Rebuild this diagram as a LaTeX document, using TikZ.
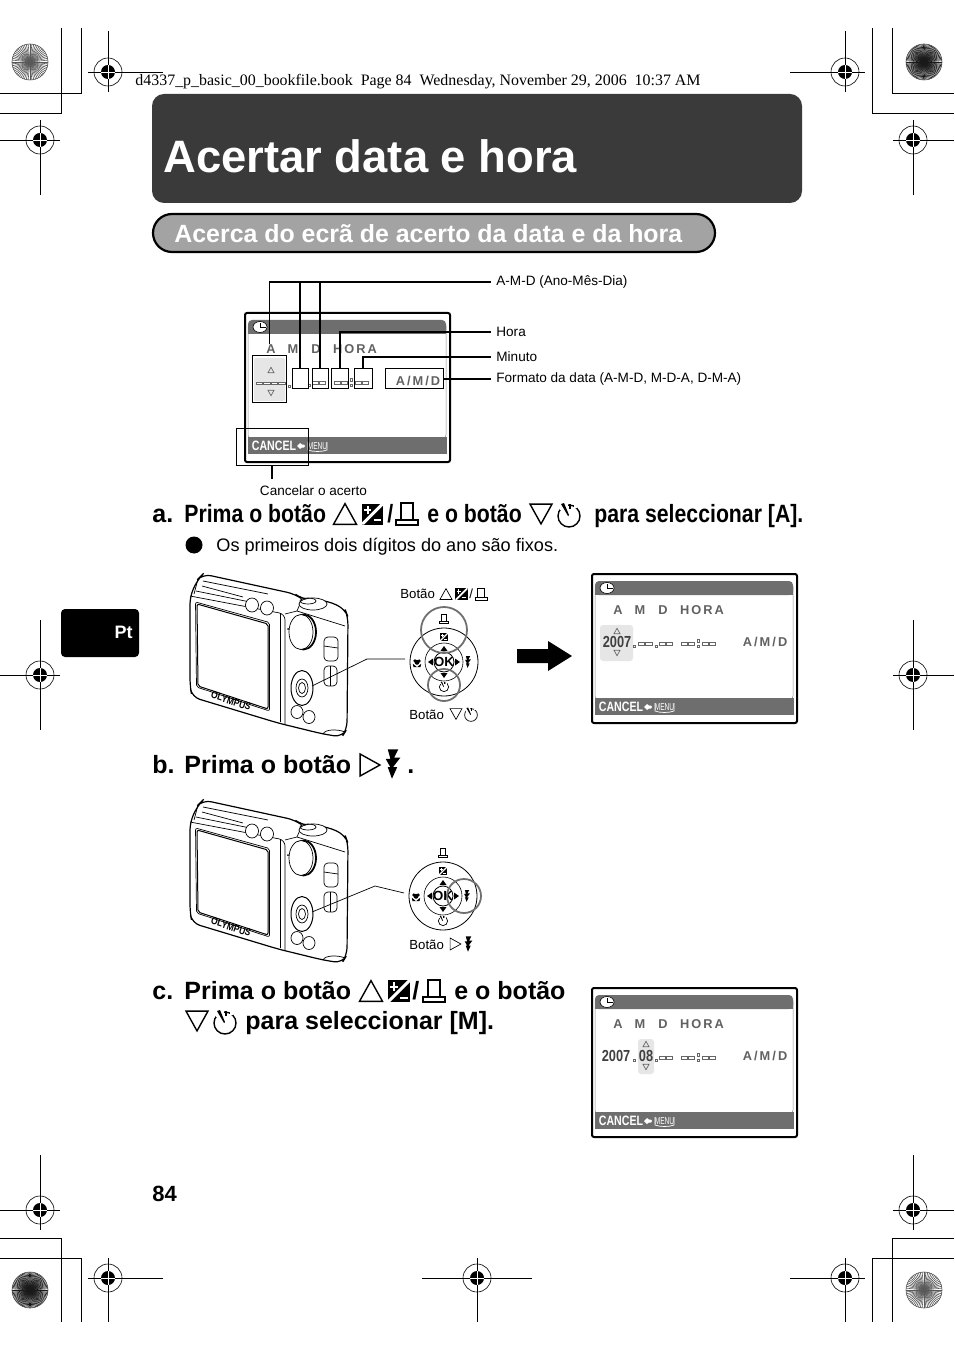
\documentclass[tikz,border=0pt]{standalone}
\usepackage{fontspec}
\setmainfont{Liberation Sans}
\setsansfont{Liberation Sans}
\newfontfamily\pageheadfont{Liberation Serif}
\newfontfamily\lcdfont{Liberation Sans}[LetterSpace=16]
\definecolor{banner}{HTML}{3A3A3A}
\definecolor{pillgray}{HTML}{A3A3A3}
\definecolor{lcdbar}{HTML}{6E6E6E}
\definecolor{lcdpale}{HTML}{E6E6E6}
\definecolor{ringgray}{HTML}{6F6F6F}
\tikzset{
  leader/.style={draw=black,line width=0.6pt},
  leadbox/.style={draw=black,line width=0.5pt,inner sep=0pt},
  caption/.style={anchor=west,inner sep=2.5pt,font=\fontsize{6.78}{8}\selectfont},
  steptext/.style={anchor=base west,inner sep=0pt,font=\fontsize{12.5}{15}\selectfont\bfseries},
  tiny/.style={anchor=base west,inner sep=0pt,font=\fontsize{6.6}{8}\selectfont},
  lcdtext/.style={inner sep=0pt,text=black!62,font=\fontsize{6.4}{7}\selectfont\lcdfont\bfseries},
  lcddigit/.style={inner sep=0pt,text=black!75,xscale=.8,transform shape,font=\fontsize{8}{9}\selectfont\bfseries},
  lcddash/.style={draw=black!60,line width=0.2pt,fill=white},
  iconbig/.style={line width=0.7pt},
  iconsmall/.style={line width=0.35pt},
  dialmark/.style={draw=ringgray,line width=0.9pt},
  camline/.style={line width=0.35pt},
  triup/.pic={\draw (-10,9)--(0,-9)--(10,9)--cycle;},
  tridown/.pic={\draw (-10,-9)--(0,9)--(10,-9)--cycle;},
  triright/.pic={\draw (-9,-10)--(9,0)--(-9,10)--cycle;},
  evicon/.pic={
    \fill (-10,-10) rectangle (10,10);
    \fill[white] (-10,10)--(-8,10)--(10,-8)--(10,-10)--(8,-10)--(-10,8)--cycle;
    \fill[white] (-8,-5) rectangle (-1,-3);
    \fill[white] (-5.5,-8) rectangle (-3.5,0);
    \fill[white] (1,5) rectangle (8,7);
  },
  printicon/.pic={
    \draw (-6,6)--(-6,-11)--(6,-11)--(6,6);
    \draw (-11,6) rectangle (11,11);
  },
  timericon/.pic={
    \draw (0,0) circle (11);
    \fill[white] (-9,-13) rectangle (-1,-6);
    \fill[white] (5,-12) rectangle (8,-8);
    \fill (-8,-12)--(-5,-13)--(0,-1)--(-1,0)--cycle;
    \fill (0,-12) rectangle (1.8,-7);
  },
  flashicon/.pic={
    \fill (-5,-14)--(5,-14)--(1,-6)--(7,-6)--(0,3)--(4,3)--(-1,14)--(-5,3)--(-2.5,3)--(-7,-5)--(-2.5,-5)--cycle;
  },
  tulipicon/.pic={
    \fill (0,-1) circle (3.5) (-3,-3) circle (2.5) (3,-3) circle (2.5);
    \fill (-6,1)--(0,6)--(6,1)--(5,6)--(-5,6)--cycle;
  },
  lcd/.pic={
    \draw[line width=1pt,rounded corners=1pt,fill=white] (0,0) rectangle (205,149);
    \draw[black!45,line width=0.25pt,rounded corners=1.5pt] (3,10) rectangle (201,125);
    \fill[lcdbar,rounded corners=2pt] (3,7) rectangle (201,21);
    \fill[lcdbar] (3,14) rectangle (201,21);
    \fill[lcdbar] (3,124) rectangle (202,141);
    \draw[fill=white,line width=0.3pt] (15,14) ellipse (7 and 5.5);
    \draw[line width=0.25pt] (15,10)--(15,14)--(21,14);
    \node[lcdtext] (lcdA) at (26,36) {A};
    \node[lcdtext] (lcdM) at (48,36) {M};
    \node[lcdtext] (lcdD) at (71,36) {D};
    \node[lcdtext] (lcdHora) at (110,36) {HORA};
    \node[lcdtext] (lcdOrder) at (173,68) {A/M/D};
    \foreach \x in {67,74,89,96,110,117}
      \draw[lcddash] (\x,68.5) rectangle ++(6.5,2.5);
    \foreach \y in {65.5,71}
      \draw[lcddash] (105,\y) rectangle ++(2.5,2.5);
    \draw[lcddash] (63,71) rectangle ++(2,2);
    \node[inner sep=0pt,text=white,xscale=.78,transform shape,font=\fontsize{6.8}{8}\selectfont\bfseries] (lcdCancel) at (29,133) {CANCEL};
    \fill[white] (52,133)--(55,130)--(57,131.5)--(59,131.5)--(60,133)--(59,134.5)--(57,134.5)--(55,136)--cycle;
    \node[inner sep=0pt,text=white,xscale=.66,transform shape,font=\fontsize{5}{6}\selectfont] (lcdMenu) at (72.5,133) {MENU};
    \draw[white,line width=0.35pt] (63,129)--(63,137) .. controls (68,139) and (77,139) .. (82,137)--(82,129);
  },
  camera/.pic={
    \begin{scope}[camline]
    \draw[line width=0.6pt,rounded corners=4pt,fill=white] (0,22)--(8,5)--(13,0)--(105,20)--(112,25)--(138,27)--(155,35)--(158,43)--(157,155)--(152,163)--(133,160)--(88,149)--(2,123)--(0,112)--cycle;
    \draw[rounded corners=3pt] (0,22)--(95,40)--(95,150);
    \draw (90,39)--(90,148);
    \draw (8,5)--(4,20) (13,7)--(78,20) (12,12)--(53,23) (6,17)--(60,28);
    \draw (95,40)--(107,37)--(155,52);
    \draw (112,25)--(107,37);
    \draw[rounded corners=1pt,line width=0.5pt] (7,30)--(78,50)--(78,135)--(8,112)--cycle;
    \draw[rounded corners=1pt] (5.5,28)--(79.5,48.5)--(79.5,137)--(6.5,113)--cycle;
    \draw[fill=white] (62,31) ellipse (6.5 and 7);
    \draw[fill=white] (77,34) ellipse (6.5 and 7);
    \draw[fill=white] (123,30) ellipse (14 and 6);
    \draw (118,27) ellipse (8 and 3);
    \draw[line width=0.9pt] (113.5,58) ellipse (12.5 and 17.5);
    \draw[fill=white] (111,58) ellipse (12 and 17.5);
    \fill (98,55) circle (1);
    \draw[rounded corners=2pt,fill=white] (134,63) rectangle (148,87);
    \draw (134,72)--(148,74);
    \draw[rounded corners=2pt,fill=white] (134,92) rectangle (147,112);
    \draw (140,92)--(140,112);
    \draw[fill=white,line width=0.5pt] (112,114) ellipse (11 and 17.5);
    \draw (112,114) ellipse (6 and 9);
    \draw (112,114) ellipse (3.5 and 5.5);
    \draw[fill=white] (107,138) ellipse (6 and 6.5);
    \draw[fill=white] (119,143) ellipse (6 and 6.5);
    \draw (133,160) .. controls (135,155) and (148,155) .. (155,158);
    \node[inner sep=0pt,rotate=-18,xscale=.85,transform shape,font=\fontsize{5}{5}\selectfont\bfseries] (camBrand) at (41,127) {OLYMPUS};
    \end{scope}
  },
  dial/.pic={
    \draw[line width=0.4pt] (0,0) circle (34);
    \draw[line width=0.3pt] (0,0) circle (19);
    \draw[line width=0.4pt,fill=white] (0,0) circle (10);
    \node[inner sep=0pt,font=\fontsize{6.6}{8}\selectfont\bfseries] (dialOk) at (0,0) {OK};
    \fill (0,-16)--(-3.5,-11)--(3.5,-11)--cycle;
    \fill (0,16)--(-3.5,11)--(3.5,11)--cycle;
    \fill (-16,0)--(-11,-3.5)--(-11,3.5)--cycle;
    \fill (16,0)--(11,-3.5)--(11,3.5)--cycle;
    \pic[scale=.42,iconsmall] at (0,-43) {printicon};
    \pic[scale=.42] at (0,-25) {evicon};
    \pic[scale=.7] at (-27,1) {tulipicon};
    \pic[scale=.42] at (24,0) {flashicon};
    \pic[scale=.42,iconsmall] at (0,25) {timericon};
    \coordinate (rim) at (-39,-3);
  }
}
\begin{document}
\begin{tikzpicture}[x=0.5pt,y=-0.5pt,font=\fontsize{8}{10}\selectfont]
\useasboundingbox (0,0) rectangle (954,1352);
% printer marks
\draw[line width=0.35pt] (81,28)--(81,93)--(0,93) (61,28)--(61,113)--(0,113)
  (872,28)--(872,113)--(954,113) (892,28)--(892,93)--(954,93)
  (0,1238)--(61,1238)--(61,1322) (0,1258)--(81,1258)--(81,1322)
  (954,1238)--(892,1238)--(892,1322) (954,1258)--(872,1258)--(872,1322);
\foreach \x/\y/\l/\r/\t/\b in {108/72/20/55/41/20,845/72/55/20/41/20,40/140/40/20/20/55,913/140/20/41/20/55,
  40/675/40/20/55/55,913/675/20/41/55/55,40/1210/40/20/55/20,913/1210/20/41/55/20,
  108/1278/20/55/20/44,477/1278/55/55/20/44,845/1278/55/20/20/44}{
  \draw[line width=0.4pt] (\x-\l,\y)--(\x+\r,\y) (\x,\y-\t)--(\x,\y+\b);
  \draw[line width=0.3pt] (\x,\y) circle (14);
  \fill (\x,\y) circle (7);
  \draw[white,line width=0.25pt] (\x-7,\y)--(\x+7,\y) (\x,\y-7)--(\x,\y+7);
}
\foreach \x/\y/\s/\c in {30/62/6/65,924/62/4/90,30/1290/4/90,924/1290/6/65}{
  \foreach \a in {0,\s,...,359}
    \draw[black!\c,line width=0.3pt] (\x,\y)--++(\a:18);
  \draw[black!70,line width=0.3pt] (\x,\y) circle (18);
}
% page furniture
\node[anchor=base west,inner sep=0pt,font=\fontsize{7.97}{10}\selectfont\pageheadfont] (pagehead) at (135,86) {d4337\_p\_basic\_00\_bookfile.book\ \ Page 84\ \ Wednesday, November 29, 2006\ \ 10:37 AM};
\fill[banner,rounded corners=6pt] (152,94) rectangle (802,203);
\node[anchor=base west,inner sep=0pt,text=white,font=\fontsize{22.7}{26}\selectfont\bfseries] (title) at (163,173) {Acertar data e hora};
\draw[fill=pillgray,line width=1.1pt,rounded corners=9.5pt] (153,214) rectangle (715,252);
\node[anchor=base west,inner sep=0pt,text=white,font=\fontsize{12.45}{15}\selectfont\bfseries] (subtitle) at (174,242.5) {Acerca do ecrã de acerto da data e da hora};
\fill[rounded corners=2pt] (61,609) rectangle (139,657);
\node[anchor=base east,inner sep=0pt,text=white,font=\fontsize{9}{11}\selectfont\bfseries] (langtab) at (133,638) {Pt};
\node[anchor=base west,inner sep=0pt,font=\fontsize{11}{13}\selectfont\bfseries] (pagenum) at (152,1201.5) {84};
% top screen and its callouts
\pic (scrTop) at (245,313) {lcd};
\fill[lcdpale,rounded corners=1pt] (254,358) rectangle (285,401);
\pic[scale=.3,draw=black!60,iconsmall] at (271,370) {triup};
\pic[scale=.3,draw=black!60,iconsmall] at (271,393) {tridown};
\foreach \x in {256,263.5,271,278.5}
  \draw[lcddash] (\x,382) rectangle ++(6.5,2.5);
\draw[lcddash] (288,385) rectangle ++(2,2);
\node[leadbox,minimum width=17pt,minimum height=23.5pt] (yearbox) at (269.5,379.5) {};
\node[leadbox,minimum width=8pt,minimum height=10pt] (monthbox) at (300,379) {};
\node[leadbox,minimum width=8pt,minimum height=10pt] (daybox) at (320,379) {};
\node[leadbox,minimum width=8.5pt,minimum height=10pt] (hourbox) at (340,379) {};
\node[leadbox,minimum width=9pt,minimum height=10pt] (minbox) at (363,379) {};
\node[leadbox,minimum width=29pt,minimum height=10pt] (orderbox) at (414,379) {};
\node[leadbox,minimum width=36pt,minimum height=18.5pt] (cancelbox) at (272,446.5) {};
\node[caption] (amdlabel) at (491,282) {A-M-D (Ano-Mês-Dia)};
\node[caption] (horalabel) at (491,332) {Hora};
\node[caption] (minlabel) at (491,357) {Minuto};
\node[caption] (orderlabel) at (491,379) {Formato da data (A-M-D, M-D-A, D-M-A)};
\node[anchor=north,inner sep=2pt,font=\fontsize{6.78}{8}\selectfont] (cancellabel) at (313.5,481) {Cancelar o acerto};
\draw[leader] (yearbox.north) ++(0,-11) |- (amdlabel.west);
\draw[leader,line width=1pt] (monthbox.north) -- (monthbox.north |- amdlabel.west);
\draw[leader] (daybox.north) -- (daybox.north |- amdlabel.west);
\draw[leader] (hourbox.north) |- (horalabel.west);
\draw[leader] (minbox.north) |- (minlabel.west);
\draw[leader] (orderbox.east) -- (orderlabel.west);
\draw[leader,line width=1pt] (cancelbox.south) -- ++(0,13);
% step a
\node[steptext] (stepA) at (152,522) {a.};
\node[steptext,xscale=.85,transform shape] (stepAbtn) at (184,522) {Prima o botão};
\pic[scale=1.15,iconbig] at (345,514) {triup};
\pic[scale=1.05] at (372.5,514) {evicon};
\node[steptext,xscale=.85,transform shape] (stepAsl) at (387,522) {/};
\pic[iconbig] at (407,514) {printicon};
\node[steptext,xscale=.85,transform shape] (stepAand) at (427,522) {e o botão};
\pic[scale=1.1,iconbig] at (541,514) {tridown};
\pic[iconbig] at (569,516) {timericon};
\node[steptext,xscale=.85,transform shape] (stepAend) at (594,522) {para seleccionar [A].};
\node[circle,fill=black,inner sep=0pt,minimum size=8.5pt] (bullet) at (194,545) {};
\node[anchor=base west,inner sep=0pt,font=\fontsize{9.07}{11}\selectfont] (bullettext) at (216,551) {Os primeiros dois dígitos do ano são fixos.};
% camera a
\pic (camA) at (190,574) {camera};
\pic (dialA) at (444,662) {dial};
\draw[dialmark] (444,630) circle (23);
\draw[dialmark] (444,685) circle (16);
\coordinate (padA) at (312,686);
\draw[line width=0.35pt] (padA) -- (367,659) -- (dialArim);
\node[tiny] (botaoUp) at (400,598.5) {Botão};
\pic[scale=.6,iconsmall] at (446,594) {triup};
\pic[scale=.62] at (461.5,594) {evicon};
\node[tiny] (slashUp) at (469,598.5) {/};
\pic[scale=.55,iconsmall] at (481,594) {printicon};
\node[tiny] (botaoDown) at (409,719) {Botão};
\pic[scale=.6,iconsmall] at (456,714) {tridown};
\pic[scale=.58,iconsmall] at (471,715) {timericon};
% arrow and first result
\fill (517,649)--(548,649)--(548,641)--(572,656)--(548,671)--(548,663)--(517,663)--cycle;
\pic (scrA) at (592,574) {lcd};
\fill[lcdpale,rounded corners=1.5pt] (600,625) rectangle (633,661);
\pic[scale=.3,draw=black!60,iconsmall] at (617,631) {triup};
\pic[scale=.3,draw=black!60,iconsmall] at (617,653) {tridown};
\node[lcddigit] (yearA) at (617,642) {2007};
\foreach \x in {638,645.5}
  \draw[lcddash] (\x,642.5) rectangle ++(6.5,2.5);
\draw[lcddash] (633.5,645) rectangle ++(2,2);
% step b
\node[steptext] (stepB) at (152,773) {b.};
\node[steptext] (stepBbtn) at (184,773) {Prima o botão};
\pic[scale=1.1,iconbig] at (370,765) {triright};
\pic[scale=1.05] at (393,764) {flashicon};
\node[steptext] (stepBend) at (407,773) {.};
% camera b
\pic (camB) at (190,800) {camera};
\pic (dialB) at (443,896) {dial};
\draw[dialmark] (464,896) circle (17);
\coordinate (padB) at (312,912);
\draw[line width=0.35pt] (padB) -- (375,886) -- (dialBrim);
\node[tiny] (botaoRight) at (409,949) {Botão};
\pic[scale=.6,iconsmall] at (455.5,944) {triright};
\pic[scale=.55] at (468.5,944) {flashicon};
% step c
\node[steptext] (stepC) at (152,999) {c.};
\node[steptext] (stepCbtn) at (184,999) {Prima o botão};
\pic[scale=1.15,iconbig] at (371,991) {triup};
\pic[scale=1.1] at (399,991) {evicon};
\node[steptext] (stepCsl) at (412,999) {/};
\pic[iconbig] at (434,991) {printicon};
\node[steptext] (stepCand) at (454,999) {e o botão};
\pic[scale=1.1,iconbig] at (197,1021) {tridown};
\pic[iconbig] at (225,1023) {timericon};
\node[steptext] (stepCend) at (245,1029) {para seleccionar [M].};
% second result
\pic (scrC) at (592,988) {lcd};
\fill[lcdpale,rounded corners=1.5pt] (638,1039) rectangle (654,1074);
\pic[scale=.3,draw=black!60,iconsmall] at (646,1044) {triup};
\pic[scale=.3,draw=black!60,iconsmall] at (646,1067) {tridown};
\node[lcddigit] (yearC) at (616,1056) {2007};
\node[lcddigit] (monthC) at (646,1056) {08};
\draw[lcddash] (633.5,1059) rectangle ++(2,2);
\end{tikzpicture}
\end{document}
